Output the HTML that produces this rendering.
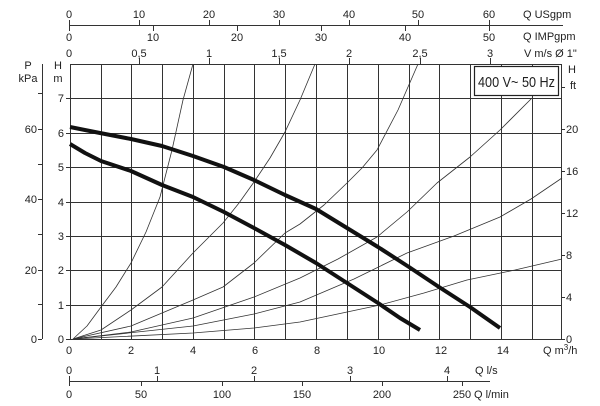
<!DOCTYPE html>
<html><head><meta charset="utf-8"><style>
html,body{margin:0;padding:0;background:#fff}
svg{display:block}
text{font-family:"Liberation Sans",sans-serif;fill:#222}
</style></head><body>
<svg width="600" height="406" viewBox="0 0 600 406" xmlns="http://www.w3.org/2000/svg">
<rect width="600" height="406" fill="#fff"/>
<g stroke="#333" stroke-width="1" fill="none">
<path d="M70.5 64V339M101.5 64V339M131.5 64V339M162.5 64V339M193.5 64V339M224.5 64V339M254.5 64V339M285.5 64V339M316.5 64V339M347.5 64V339M378.5 64V339M409.5 64V339M439.5 64V339M470.5 64V339M501.5 64V339M532.5 64V339M561.5 64V339"/>
<path d="M70 64.5H561M70 98.5H561M70 133.5H561M70 167.5H561M70 202.5H561M70 236.5H561M70 270.5H561M70 305.5H561M70 339.5H561"/>
<path d="M66 98.5H70M66 133.5H70M66 167.5H70M66 202.5H70M66 236.5H70M66 270.5H70M66 305.5H70M66 339.5H70"/>
<path d="M42.5 64V339M38 339.5H42M38 304.5H42M38 270.5H42M38 234.5H42M38 199.5H42M38 164.5H42M38 129.5H42M38 93.5H42"/>
<path d="M561 87.5H565M561 129.5H565M561 171.5H565M561 213.5H565M561 255.5H565M561 297.5H565M561 339.5H565"/>
<path d="M69 25.5H563M69.5 20V31M139.5 20V25M209.5 20V25M279.5 20V25M349.5 20V25M418.5 20V25M489.5 20V25M153.5 25V31M237.5 25V31M321.5 25V31M405.5 25V31M489.5 25V31"/>
<path d="M139.5 58V64M209.5 58V64M279.5 58V64M349.5 58V64M420.5 58V64M490.5 58V64"/>
<path d="M69 381.5H490M69.5 376V386M157.5 376V381M254.5 376V381M350.5 376V381M447.5 376V381M141.5 381V386M222.5 381V386M302.5 381V386M382.5 381V386M462.5 381V386"/>
</g>
<g stroke="#333" stroke-width="0.8" fill="none" stroke-linejoin="round">
<polyline points="73,339 87,326 101,307 116,287 131,263 146,232 160,197 172,150 183,100 193,64"/>
<polyline points="73,339 101,330 131,310 162,287 193,253 208,238 223,223 239,203 254,182 270,158 285,132 300,100 315,64"/>
<polyline points="73,339 131,326 193,300 223,287 254,263 285,233 300,224 324,205 347,183 362,168 377,150 398,110 418,64"/>
<polyline points="73,339 131,332 193,318 254,297 300,278 338,259 377,237 407,212 437,183 470,157 500,130 532,98"/>
<polyline points="73,339 193,326 254,314 300,302 354,279 407,253 454,236 500,217 531,199 562,178"/>
<polyline points="73,339 193,333 254,328 300,322 380,305 424,293 467,280 515,270 562,259"/>
</g>
<g stroke="#111" stroke-width="4" fill="none" stroke-linecap="butt" stroke-linejoin="round">
<polyline points="70,127 100,133 131,139 162,146 193,156 224,167 254,180 285,195 316,209 347,228 378,247 409,267 439,287 470,307 500,328"/>
<polyline points="70,144 85,153 101,161 131,171 162,185 193,197 224,212 254,228 285,245 316,263 347,283 378,303 400,318 420,330"/>
</g>
<rect x="474.5" y="66.5" width="84" height="29" fill="#fff" stroke="#222" stroke-width="1.2"/>
<text x="478" y="87" font-size="15" textLength="77" lengthAdjust="spacingAndGlyphs">400 V~ 50 Hz</text>
<g font-size="11">
<g text-anchor="middle">
<text x="69" y="18">0</text><text x="139" y="18">10</text><text x="209" y="18">20</text><text x="279" y="18">30</text><text x="349" y="18">40</text><text x="418" y="18">50</text><text x="489" y="18">60</text>
<text x="69" y="41">0</text><text x="153" y="41">10</text><text x="237" y="41">20</text><text x="321" y="41">30</text><text x="405" y="41">40</text><text x="489" y="41">50</text>
<text x="69" y="57">0</text><text x="139" y="57">0,5</text><text x="209" y="57">1</text><text x="279" y="57">1,5</text><text x="349" y="57">2</text><text x="420" y="57">2,5</text><text x="490" y="57">3</text>
</g>
<text x="523" y="18">Q USgpm</text>
<text x="523" y="40">Q IMPgpm</text>
<text x="524" y="57">V m/s Ø 1"</text>
<g text-anchor="middle"><text x="28" y="69">P</text><text x="28" y="82">kPa</text><text x="58" y="69">H</text><text x="58" y="82">m</text></g>
<g text-anchor="end">
<text x="37" y="343">0</text><text x="37" y="274">20</text><text x="37" y="203">40</text><text x="37" y="133">60</text>
<text x="64" y="343">0</text><text x="64" y="309">1</text><text x="64" y="274">2</text><text x="64" y="240">3</text><text x="64" y="206">4</text><text x="64" y="171">5</text><text x="64" y="137">6</text><text x="64" y="102">7</text>
</g>
<text x="568" y="73">H</text><text x="570" y="89">ft</text>
<text x="566" y="343">0</text><text x="566" y="301">4</text><text x="566" y="259">8</text><text x="566" y="217">12</text><text x="566" y="175">16</text><text x="566" y="133">20</text>
<g text-anchor="middle">
<text x="69" y="354">0</text><text x="131" y="354">2</text><text x="193" y="354">4</text><text x="255" y="354">6</text><text x="317" y="354">8</text><text x="379" y="354">10</text><text x="441" y="354">12</text><text x="503" y="354">14</text>
<text x="69" y="374">0</text><text x="157" y="374">1</text><text x="254" y="374">2</text><text x="350" y="374">3</text><text x="447" y="374">4</text>
<text x="69" y="398">0</text><text x="141" y="398">50</text><text x="222" y="398">100</text><text x="302" y="398">150</text><text x="382" y="398">200</text><text x="462" y="398">250</text>
</g>
<text x="543" y="354">Q m<tspan font-size="8" dy="-4">3</tspan><tspan dy="4">/h</tspan></text>
<text x="475" y="374">Q l/s</text>
<text x="474" y="398">Q l/min</text>
</g>
</svg>
</body></html>
